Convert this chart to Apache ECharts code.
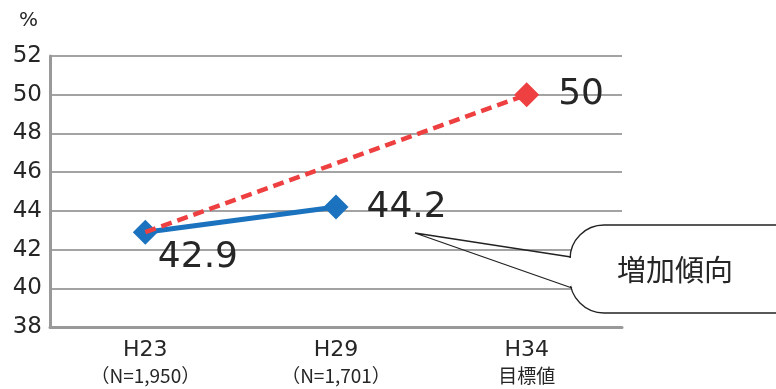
<!DOCTYPE html>
<html>
<head>
<meta charset="utf-8">
<script src="https://cdn.jsdelivr.net/npm/echarts@6/dist/echarts.min.js"></script>
<style>
  html, body { margin: 0; padding: 0; background: #fff; }
  #chart { width: 776px; height: 389px; }
</style>
</head>
<body>
<div id="chart"></div>
<script>
// Survey years and sample sizes
const categories = ['H23', 'H29', 'H34'];
const subLabels = ['（N=1,950）', '（N=1,701）', '目標値'];
// Measured share (%)
const actualValues = [42.9, 44.2, null];
// Target trajectory (%), from the H23 baseline to the H34 goal
const targetValues = [42.9, null, 50];
const yTicks = { min: 38, max: 52, interval: 2 };
const unitLabel = '%';
const calloutText = '増加傾向';

const NUM_FONT = '"DejaVu Sans", sans-serif';
const JP_FONT = '"Noto Sans CJK JP", sans-serif';
const BLUE = '#1b72be';
const RED = '#ee4040';
const TEXT = '#262626';

const chart = echarts.init(document.getElementById('chart'));

// Per-point label placement for the measured series
const actualLabelCfg = [
  { position: 'right', distance: 0, offset: [0, 25] },
  { position: 'right', distance: 18, offset: [0, 1] }
];

const actualData = actualValues.map((v, i) => {
  if (v === null) return '-';
  const cfg = actualLabelCfg[i];
  return {
    value: v,
    label: {
      show: true,
      position: cfg.position,
      distance: cfg.distance,
      offset: cfg.offset,
      formatter: String(v),
      fontFamily: NUM_FONT,
      fontSize: 36,
      color: TEXT
    }
  };
});

const targetData = targetValues.map((v, i) => {
  if (v === null) return '-';
  const isGoal = i === targetValues.length - 1;
  return {
    value: v,
    symbol: isGoal ? 'diamond' : 'none',
    label: {
      show: isGoal,
      position: 'right',
      distance: 19,
      formatter: String(v),
      fontFamily: NUM_FONT,
      fontSize: 36,
      color: TEXT
    }
  };
});

const option = {
  animation: false,
  backgroundColor: '#fff',
  grid: { left: 50, top: 56, width: 572, height: 271, containLabel: false },
  xAxis: {
    type: 'category',
    data: categories,
    boundaryGap: true,
    axisLine: { lineStyle: { color: '#999', width: 3 } },
    axisTick: { show: false },
    axisLabel: {
      margin: 11,
      interval: 0,
      formatter: (val, idx) => '{a|' + val + '}\n{b|' + subLabels[idx] + '}',
      rich: {
        a: { fontFamily: NUM_FONT, fontSize: 22, lineHeight: 25, color: TEXT },
        b: { fontFamily: JP_FONT, fontSize: 19, lineHeight: 25, color: TEXT }
      }
    },
    splitLine: { show: false }
  },
  yAxis: {
    type: 'value',
    min: yTicks.min,
    max: yTicks.max,
    interval: yTicks.interval,
    name: unitLabel,
    nameLocation: 'end',
    nameGap: 25,
    nameTextStyle: { fontFamily: NUM_FONT, fontSize: 20, color: TEXT, align: 'right', padding: [0, 12, 0, 0] },
    axisLine: { show: true, lineStyle: { color: '#999', width: 3 } },
    axisTick: { show: false },
    axisLabel: { margin: 8, fontFamily: NUM_FONT, fontSize: 23, color: TEXT },
    splitLine: { lineStyle: { color: '#a3a3a3', width: 2 } }
  },
  series: [
    {
      name: 'actual',
      type: 'line',
      data: actualData,
      z: 3,
      symbol: 'diamond',
      symbolSize: 25,
      itemStyle: { color: BLUE },
      lineStyle: { color: BLUE, width: 5 }
    },
    {
      name: 'target',
      type: 'line',
      data: targetData,
      connectNulls: true,
      z: 4,
      symbolSize: 25,
      itemStyle: { color: RED },
      lineStyle: { color: RED, width: 4.5, type: [11, 6] }
    }
  ],
  graphic: [
    // Speech bubble body
    {
      type: 'rect',
      z: 100,
      shape: { x: 570, y: 225, width: 240, height: 88, r: 34 },
      style: { fill: '#fff', stroke: '#222', lineWidth: 1.3 }
    },
    // Opening where the tail joins the bubble
    {
      type: 'line',
      z: 101,
      shape: { x1: 570, y1: 258, x2: 570, y2: 286 },
      style: { stroke: '#fff', lineWidth: 3 }
    },
    // Tail pointing back toward the measured line
    {
      type: 'polyline',
      z: 102,
      shape: { points: [[571, 257], [415, 233], [572, 288]] },
      style: { fill: null, stroke: '#222', lineWidth: 1.3 }
    },
    {
      type: 'text',
      z: 103,
      x: 675,
      y: 270,
      style: {
        text: calloutText,
        fontFamily: JP_FONT,
        fontSize: 29,
        fill: TEXT,
        align: 'center',
        verticalAlign: 'middle'
      }
    }
  ]
};

chart.setOption(option);
</script>
</body>
</html>
